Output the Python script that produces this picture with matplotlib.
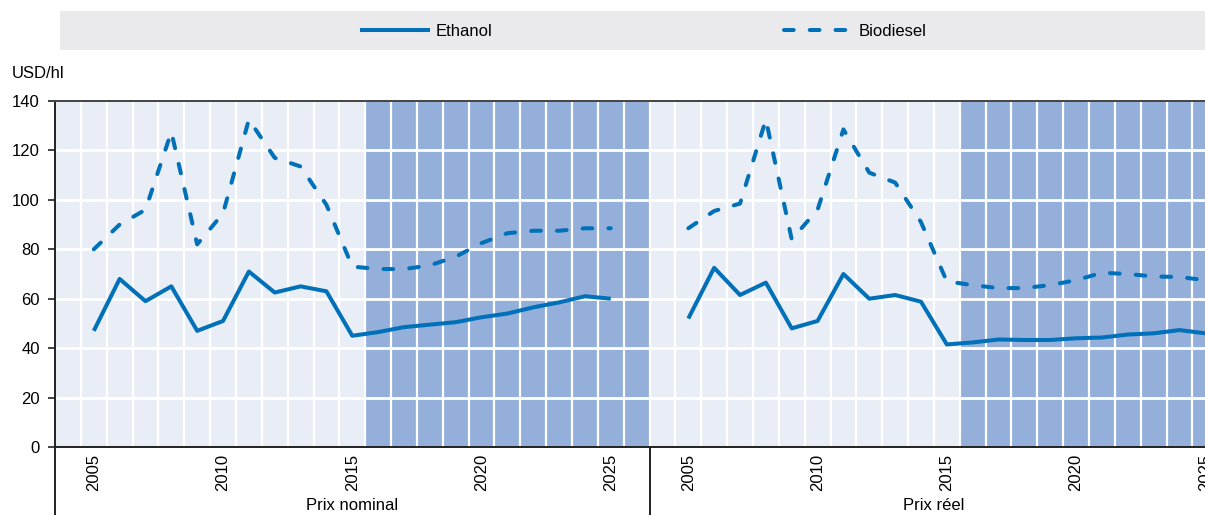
import numpy as np
import matplotlib
matplotlib.use("Agg")
import matplotlib.pyplot as plt
from matplotlib.patches import Rectangle
from matplotlib.lines import Line2D

plt.rcParams['font.family'] = ['Liberation Sans', 'DejaVu Sans']

years = list(range(2005, 2026))
ethanol_nominal = [47, 68, 59, 65, 47, 51, 71, 62.5, 65, 63, 45,
                   46.5, 48.5, 49.5, 50.5, 52.5, 54, 56.5, 58.5, 61, 60]
biodiesel_nominal = [80, 90, 96, 127.5, 82, 94.5, 132.5, 117, 113.5, 98, 73,
                     72, 72, 73.5, 77, 82.5, 86.5, 87.5, 87.5, 88.5, 88.5]
ethanol_real = [52, 72.5, 61.5, 66.5, 48, 51, 70, 60, 61.5, 58.8, 41.5,
                42.3, 43.5, 43.3, 43.3, 44, 44.3, 45.5, 46, 47.3, 46]
biodiesel_real = [88.5, 95.5, 98.5, 132.5, 84, 96, 128.5, 111, 107, 91, 67,
                  65.5, 64.3, 64.3, 65.5, 67.5, 70.5, 70, 69, 68.8, 67.5]
tick_years = [2005, 2010, 2015, 2020, 2025]
panels = ['Prix nominal', 'Prix réel']

line_col = '#0070B8'
bg_col = '#E9EEF6'
proj_col = '#93AFDA'
ncat = 23  # 2004..2026 per panel
lw = 2.9
dash = (2.4, 4.0)


def xpos(yrs, panel):
    return [panel * ncat + (y - 2004) + 0.5 for y in yrs]


fig = plt.figure(figsize=(12.05, 5.15), dpi=100)
W, H = 1205, 515
cat_w = 25.85
ax = fig.add_axes([55 / W, (515 - 447) / H, 2 * ncat * cat_w / W, 346 / H])
ax.set_facecolor(bg_col)
ax.set_xlim(0, 2 * ncat)
ax.set_ylim(0, 140)

# projection shading
for p in range(2):
    ax.axvspan(p * ncat + 12, p * ncat + ncat, color=proj_col, lw=0, zorder=0.5)

# grid
for k in range(1, 2 * ncat):
    ax.axvline(k, color='white', lw=1.6, zorder=1)
for v in range(20, 140, 20):
    ax.axhline(v, color='white', lw=2, zorder=1)

# series
sets = [(ethanol_nominal, biodiesel_nominal), (ethanol_real, biodiesel_real)]
for p, (eth, bio) in enumerate(sets):
    ax.plot(xpos(years, p), eth, color=line_col, lw=lw, zorder=3,
            solid_capstyle='butt')
    ax.plot(xpos(years, p), bio, color=line_col, lw=lw, zorder=3,
            dashes=dash, dash_capstyle='round')

# axes styling
ax.spines['right'].set_visible(False)
for s in ['left', 'bottom', 'top']:
    ax.spines[s].set_color('#222222')
    ax.spines[s].set_linewidth(1.4)
ax.spines['top'].set_color('#444444')

ax.set_yticks(range(0, 141, 20))
ax.tick_params(axis='y', length=5, width=1.2, labelsize=12, pad=6,
               color='#222222')
xt = xpos(tick_years, 0) + xpos(tick_years, 1)
ax.set_xticks(xt)
ax.set_xticklabels([str(y) for y in tick_years] * 2, rotation=90,
                   fontsize=12)
ax.tick_params(axis='x', length=0, pad=5)

# panel separators below the axis
trans = ax.get_xaxis_transform()
for xsep in [0, ncat]:
    ax.plot([xsep, xsep], [0, -0.2], transform=trans, color='#222222',
            lw=1.4, clip_on=False)
ax.text(11.5, -0.168, panels[0], transform=trans, ha='center', va='center',
        fontsize=12)
ax.text(34.0, -0.168, panels[1], transform=trans, ha='center', va='center',
        fontsize=12)

fig.text(12 / W, 1 - 73 / H, 'USD/hl', ha='left', va='center', fontsize=12)

# legend box
fig.patches.append(Rectangle((60 / W, 1 - 50 / H), (W - 60) / W, 39 / H,
                             transform=fig.transFigure, color='#EAEAEC',
                             lw=0, zorder=0))
handles = [Line2D([], [], color=line_col, lw=lw),
           Line2D([], [], color=line_col, lw=lw, dashes=dash,
                  dash_capstyle='round')]
fig.legend(handles, ['Ethanol', 'Biodiesel'], ncol=2, loc='center',
           bbox_to_anchor=(644 / W, 1 - 31 / H), frameon=False,
           fontsize=12, handlelength=4.0, handletextpad=0.45,
           columnspacing=17.5)

fig.savefig('out.png', dpi=100)
